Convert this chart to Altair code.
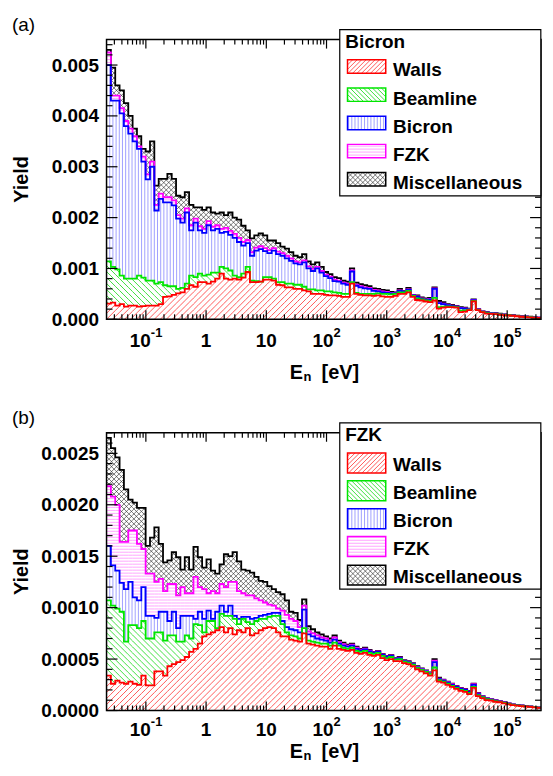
import math
import altair as alt
import numpy as np
import pandas as pd

FONT = "Liberation Sans"
LOG_LO, LOG_HI, NBINS = -1.653, 5.562, 100
UNIT = 1e-4  # all yield arrays below are in units of 1e-4

COMPONENTS = ["Walls", "Beamline", "Bicron", "FZK", "Miscellaneous"]
LINE_COLORS = ["#ff0000", "#00e600", "#0000ff", "#ff00ff", "#000000"]
HATCH_KIND = ["up", "down", "vert", "horiz", "cross"]
HATCH_STEP = [6.0, 6.0, 3.2, 3.0, 5.0]
HATCH_COLORS = ["#ff5a5a", "#40e040", "#a0a0ff", "#ffa6ff", "#303030"]
HATCH_WIDTH = [1.0, 1.0, 1.0, 1.0, 0.65]

# ---------------- panel (a): Bicron -- stacked (cumulative) levels ----------------
a_walls = [3.1, 3.3, 2.7, 3.0, 2.5, 2.7, 2.7, 2.5, 2.6, 2.7,
           2.7, 2.7, 3.0, 4.4, 4.5, 4.8, 5.1, 5.3, 6.0, 6.7,
           6.4, 7.3, 7.3, 7.0, 7.4, 8.0, 9.0, 8.0, 7.8, 8.0,
           7.8, 8.2, 9.3, 7.3, 7.3, 7.4, 7.8, 7.8, 7.6, 6.8,
           6.7, 6.3, 6.3, 6.0, 6.0, 5.7, 5.5, 5.0, 5.0, 5.0,
           4.8, 4.7, 4.7, 4.6, 4.4, 4.4, 7.0, 5.0, 4.8, 4.7,
           4.7, 4.6, 4.7, 4.5, 4.4, 4.4, 4.6, 5.0, 5.0, 5.3,
           4.4, 3.8, 3.7, 3.5, 3.4, 3.7, 2.1, 2.3, 2.4, 2.4,
           2.3, 1.4, 1.5, 1.8, 3.5, 1.8, 1.4, 1.1, 1.05, 1.0,
           0.9, 0.8, 0.75, 0.7, 0.6, 0.5, 0.45, 0.4, 0.33, 0.28]
a_beamline = [11.4, 10.3, 9.8, 8.6, 8.0, 8.0, 8.0, 8.6, 8.2, 7.6,
              7.6, 7.0, 7.3, 6.7, 6.5, 6.5, 6.0, 6.2, 7.0, 8.6,
              8.3, 9.0, 8.6, 8.8, 9.2, 9.2, 10.3, 10.0, 9.6, 8.6,
              8.3, 9.0, 10.3, 7.6, 7.5, 7.4, 8.3, 8.3, 8.0, 7.3,
              7.3, 7.0, 7.0, 6.8, 6.8, 6.4, 5.9, 5.9, 5.7, 5.7,
              5.5, 5.5, 5.3, 5.2, 5.0, 5.0, 7.3, 5.2, 5.0, 5.0,
              5.0, 5.0, 5.1, 5.0, 5.0, 4.9, 5.0, 5.3, 5.3, 5.6,
              4.6, 4.1, 3.9, 3.7, 3.6, 4.2, 2.4, 2.5, 2.55, 2.5,
              2.4, 1.7, 1.75, 1.9, 3.6, 1.85, 1.45, 1.2, 1.1, 1.05,
              0.95, 0.85, 0.8, 0.73, 0.63, 0.53, 0.48, 0.43, 0.35, 0.3]
a_bicron = [50, 43, 43, 40.5, 38, 36.5, 35, 33.5, 31, 27.5,
            30, 21.4, 23.7, 23, 23, 22.4, 19.8, 19, 21, 17.5,
            19, 17.5, 17, 18.5, 17.5, 17.8, 17, 17.2, 16.6, 16,
            15.2, 14.5, 15, 12.5, 13.5, 13.8, 13.4, 13, 13.5, 12.8,
            12.5, 12, 11.5, 11, 10.8, 11.2, 10, 9.5, 10, 9.2,
            8.5, 8.1, 7.5, 7.4, 7.0, 6.8, 9.4, 6.6, 6.3, 6.1,
            6.0, 5.6, 5.5, 5.3, 5.2, 5.1, 5.1, 5.6, 5.4, 5.8,
            4.7, 4.4, 4.0, 3.8, 3.9, 6.0, 3.2, 3.0, 2.8, 2.65,
            2.5, 2.2, 2.1, 1.95, 3.75, 1.9, 1.5, 1.3, 1.15, 1.1,
            1.0, 0.9, 0.82, 0.76, 0.66, 0.56, 0.52, 0.47, 0.38, 0.33]
a_fzk = [52.5, 44, 44, 41.5, 39, 37.5, 36, 34, 32, 28.5,
         31, 22.5, 24.7, 24, 24, 23.4, 20.5, 19.8, 21.8, 18.5,
         19.8, 18.3, 17.8, 19.3, 18.2, 18.5, 17.8, 18, 17.4, 16.8,
         16, 15.2, 15.6, 13.2, 14.1, 14.4, 14, 13.6, 14, 13.3,
         13, 12.5, 12, 11.4, 11.2, 11.6, 10.4, 9.9, 10.3, 9.5,
         8.8, 8.4, 7.8, 7.6, 7.2, 7.0, 9.6, 6.8, 6.5, 6.3,
         6.2, 5.8, 5.7, 5.5, 5.4, 5.2, 5.15, 5.7, 5.5, 5.9,
         4.75, 4.5, 4.1, 3.9, 4.0, 6.1, 3.3, 3.1, 2.85, 2.7,
         2.55, 2.25, 2.15, 2.0, 3.8, 1.95, 1.52, 1.33, 1.17, 1.13,
         1.03, 0.92, 0.83, 0.77, 0.68, 0.58, 0.53, 0.48, 0.39, 0.34]
a_total = [53, 49.5, 46, 45, 42.5, 40, 37.5, 36, 33.5, 33,
           35, 26.3, 27.6, 27.6, 28.6, 27.6, 24.3, 24, 25, 22.5,
           22, 22, 21.5, 22, 21, 20.8, 21, 20.5, 21, 20,
           19.6, 18.4, 17.5, 15.9, 16.5, 16.9, 16.5, 15.5, 15.5, 15,
           14.3, 13.9, 13.2, 12.5, 12.2, 12.8, 11.4, 10.8, 11.2, 10.3,
           9.3, 8.9, 8.3, 8.1, 7.6, 7.4, 10, 7.2, 6.9, 6.7,
           6.5, 6.1, 6.0, 5.8, 5.7, 5.4, 5.3, 6.0, 5.6, 6.2,
           4.8, 4.7, 4.3, 4.1, 4.2, 6.3, 3.6, 3.4, 3.0, 2.85,
           2.65, 2.4, 2.3, 2.1, 3.9, 2.0, 1.55, 1.4, 1.2, 1.2,
           1.1, 0.95, 0.86, 0.8, 0.7, 0.6, 0.55, 0.5, 0.4, 0.35]

# ---------------- panel (b): FZK -- stacked (cumulative) levels ----------------
b_walls = [3.4, 2.6, 2.9, 2.7, 2.6, 2.8, 2.6, 2.5, 3.4, 2.45,
           2.45, 3.8, 3.8, 3.4, 4.3, 4.5, 4.7, 4.9, 5.2, 5.7,
           6.0, 6.5, 7.2, 7.4, 7.6, 7.8, 8.1, 7.6, 8.0, 7.4,
           7.8, 7.6, 8.0, 7.3, 7.5, 7.8, 8.0, 8.1, 8.0, 7.6,
           7.2, 7.2, 6.9, 6.8, 6.7, 7.5, 6.5, 6.4, 6.3, 6.2,
           6.2, 6.0, 6.3, 6.0, 5.9, 5.8, 5.9, 5.6, 5.5, 5.6,
           5.4, 5.3, 5.4, 5.1, 4.9, 5.0, 4.8, 4.8, 4.6, 4.5,
           4.3, 4.0, 3.8, 3.6, 3.4, 3.9, 2.8, 2.7, 2.5, 2.3,
           2.1, 1.9, 1.8, 1.6, 2.2, 1.4, 1.2, 1.0, 0.95, 0.85,
           0.8, 0.7, 0.6, 0.52, 0.48, 0.43, 0.39, 0.35, 0.3, 0.26]
b_beamline = [10.7, 10.2, 9.9, 9.6, 6.7, 8.3, 8.3, 8.0, 8.7, 7.0,
              7.0, 7.6, 7.6, 6.8, 7.3, 7.3, 6.7, 6.7, 7.3, 7.0,
              8.4, 8.3, 7.6, 8.7, 8.7, 8.0, 9.4, 9.2, 9.2, 8.9,
              8.4, 8.9, 8.6, 8.4, 8.7, 8.9, 8.9, 9.1, 9.2, 9.2,
              8.4, 7.6, 7.3, 7.2, 7.0, 8.0, 6.8, 6.7, 6.6, 6.5,
              6.5, 6.3, 6.6, 6.3, 6.1, 6.0, 6.1, 5.8, 5.7, 5.8,
              5.6, 5.5, 5.6, 5.3, 5.1, 5.2, 4.95, 5.0, 4.75, 4.65,
              4.45, 4.15, 3.95, 3.75, 3.55, 4.2, 2.95, 2.8, 2.6, 2.4,
              2.2, 2.0, 1.9, 1.7, 2.3, 1.5, 1.3, 1.1, 1.0, 0.9,
              0.83, 0.73, 0.63, 0.55, 0.5, 0.45, 0.41, 0.37, 0.32, 0.27]
b_bicron = [16.0, 14.1, 13.6, 12.4, 11.8, 12.5, 11.0, 10.7, 12.0, 9.2,
            9.2, 9.0, 9.6, 9.6, 8.7, 9.6, 8.0, 9.2, 9.2, 9.2,
            8.9, 9.6, 8.9, 9.7, 8.9, 9.6, 10.2, 9.6, 10.2, 9.2,
            8.9, 9.1, 9.1, 8.9, 9.0, 9.2, 9.3, 9.4, 9.5, 9.5,
            8.7, 8.1, 7.9, 7.8, 7.6, 9.8, 7.4, 7.2, 7.0, 6.9,
            6.8, 6.6, 6.9, 6.5, 6.3, 6.2, 6.3, 6.0, 5.85, 5.95,
            5.75, 5.6, 5.7, 5.4, 5.2, 5.3, 5.0, 5.1, 4.8, 4.7,
            4.5, 4.2, 4.0, 3.8, 3.6, 4.7, 3.05, 2.9, 2.7, 2.5,
            2.3, 2.1, 2.0, 1.8, 2.5, 1.6, 1.35, 1.15, 1.05, 0.95,
            0.86, 0.76, 0.66, 0.57, 0.52, 0.47, 0.43, 0.38, 0.33, 0.28]
b_fzk = [21.8, 20.8, 20.0, 16.4, 16.4, 17.5, 17.5, 16.2, 15.7, 13.3,
         13.3, 12.5, 12.8, 11.6, 12.3, 12.3, 11.2, 12.0, 11.4, 11.4,
         13.0, 12.0, 11.8, 11.4, 11.6, 11.4, 12.3, 12.0, 12.5, 12.5,
         11.6, 11.4, 11.2, 11.2, 10.9, 10.7, 10.5, 10.3, 10.2, 9.9,
         9.7, 9.3, 8.9, 8.7, 8.1, 10.2, 7.7, 7.5, 7.3, 7.1,
         7.0, 6.8, 7.1, 6.65, 6.45, 6.3, 6.4, 6.1, 5.92, 6.02,
         5.82, 5.65, 5.75, 5.45, 5.25, 5.35, 5.05, 5.15, 4.85, 4.75,
         4.55, 4.25, 4.05, 3.85, 3.65, 4.85, 3.1, 2.95, 2.75, 2.55,
         2.35, 2.15, 2.05, 1.85, 2.55, 1.65, 1.38, 1.18, 1.07, 0.97,
         0.88, 0.78, 0.68, 0.58, 0.53, 0.48, 0.44, 0.39, 0.34, 0.29]
b_total = [26.5, 25.5, 24.6, 23.4, 21.5, 20.5, 20.2, 19.7, 19.7, 16.0,
           16.8, 17.8, 16.2, 14.4, 14.6, 15.4, 14.9, 13.7, 14.9, 13.7,
           15.9, 14.9, 13.9, 14.7, 13.6, 13.3, 14.2, 15.2, 15.0, 15.4,
           14.5, 13.7, 13.6, 13.4, 13.0, 12.6, 12.5, 12.1, 11.8, 11.5,
           11.3, 10.7, 9.6, 9.5, 8.8, 10.8, 8.2, 7.9, 7.6, 7.4,
           7.2, 7.0, 7.3, 6.8, 6.6, 6.4, 6.5, 6.2, 6.0, 6.1,
           5.9, 5.7, 5.8, 5.5, 5.3, 5.4, 5.1, 5.2, 4.9, 4.8,
           4.6, 4.3, 4.1, 3.9, 3.7, 5.0, 3.2, 3.0, 2.8, 2.6,
           2.4, 2.2, 2.1, 1.9, 2.6, 1.7, 1.4, 1.2, 1.1, 1.0,
           0.9, 0.8, 0.7, 0.6, 0.55, 0.5, 0.45, 0.4, 0.35, 0.3]

# x-axis tick labels
X_MAJOR = [0.1, 1, 10, 100, 1e3, 1e4, 1e5]
X_BASE = ["10", "1", "10", "10", "10", "10", "10"]
X_EXP = ["-1", "", "", "2", "3", "4", "5"]

edges = np.logspace(LOG_LO, LOG_HI, NBINS + 1)
W = 436.5
BW = W / NBINS
LEG_R = W - 0.2
LEG_L = LEG_R - 202


def cumulative_levels(levels):
    out, prev = [], np.zeros(NBINS)
    for lev in levels:
        hi = np.maximum(np.array(lev, dtype=float) * UNIT, prev)
        out.append((prev, hi))
        prev = hi
    return out


def long_table(bands):
    rows = []
    for name, (lo, hi) in zip(COMPONENTS, bands):
        lo_ext = np.append(lo, lo[-1])
        hi_ext = np.append(hi, hi[-1])
        for E, l, h in zip(edges, lo_ext, hi_ext):
            rows.append({"comp": name, "E": float(E), "lo": float(l), "hi": float(h)})
    return pd.DataFrame(rows)


def hatch_rect(kind, s, u0, u1, v0, v1):
    """Pattern-fill line pieces inside an axis-aligned box (plot-fraction units)."""
    segs = []
    if v1 - v0 < 0.05 or u1 - u0 < 0.05:
        return segs
    if kind in ("up", "cross"):
        for k in range(math.ceil((v0 - u1) / s), math.floor((v1 - u0) / s) + 1):
            c = k * s
            ua, ub = max(u0, v0 - c), min(u1, v1 - c)
            if ub - ua > 1e-6:
                segs.append((ua, ua + c, ub, ub + c))
    if kind in ("down", "cross"):
        for k in range(math.ceil((v0 + u0) / s), math.floor((v1 + u1) / s) + 1):
            c = k * s
            ua, ub = max(u0, c - v1), min(u1, c - v0)
            if ub - ua > 1e-6:
                segs.append((ua, c - ua, ub, c - ub))
    if kind == "vert":
        for k in range(math.ceil(u0 / s), math.floor(u1 / s) + 1):
            u = k * s
            if u0 <= u < u1:
                segs.append((u, v0, u, v1))
    if kind == "horiz":
        for k in range(math.ceil(v0 / s), math.floor(v1 / s) + 1):
            v = k * s
            if v0 < v < v1:
                segs.append((u0, v, u1, v))
    return segs


def segs_to_df(segs, H, ymax):
    def E(u):
        return float(10 ** (LOG_LO + (LOG_HI - LOG_LO) * u / W))
    return pd.DataFrame(
        [{"x": E(a), "y": va / H * ymax, "x2": E(b), "y2": vb / H * ymax} for a, va, b, vb in segs],
        columns=["x", "y", "x2", "y2"],
    )


def panel(levels, H, ymax, ymajor, minor_step, yfmt, tag, legend_title, row_y, sw_h, text_dy,
          label_y, title_y, anchor=False):
    bands = cumulative_levels(levels)
    df = long_table(bands)
    xs = alt.Scale(type="log", domain=[float(edges[0]), float(edges[-1])], nice=False)
    ys = alt.Scale(domain=[0, ymax], nice=False, zero=True)
    yaxis = alt.Axis(values=ymajor, format=yfmt, title=None, ticks=False, domain=False,
                     grid=False, labelPadding=8, labelFontSize=19, labelFontWeight="bold",
                     labelFont=FONT, labelColor="black")

    def X(f):
        return alt.X(f, type="quantitative", scale=xs, axis=None)

    def Y(f):
        return alt.Y(f, type="quantitative", scale=ys, axis=yaxis, stack=None)

    layers = []
    # hatched bands
    for (lo, hi), kind, s, hc, hw in zip(bands, HATCH_KIND, HATCH_STEP, HATCH_COLORS, HATCH_WIDTH):
        segs = []
        for i in range(NBINS):
            segs += hatch_rect(kind, s, i * BW, (i + 1) * BW, lo[i] / ymax * H, hi[i] / ymax * H)
        hdf = segs_to_df(segs, H, ymax)
        layers.append(alt.Chart(hdf).mark_rule(color=hc, strokeWidth=hw)
                      .encode(x=X("x"), y=Y("y"), x2="x2", y2="y2"))
    # outlines, Misc first, Walls on top
    for name, lc in reversed(list(zip(COMPONENTS, LINE_COLORS))):
        layers.append(
            alt.Chart(df).transform_filter(alt.datum.comp == name)
            .mark_line(interpolate="step-after", color=lc, strokeWidth=1.8)
            .encode(x=X("E"), y=Y("hi"))
        )

    # inward ticks
    nmin = int(round(ymax / minor_step))
    yminor = [round(k * minor_step, 6) for k in range(1, nmin + 1)
              if all(abs(k * minor_step - m) > 1e-9 for m in ymajor)]
    ymaj_df = pd.DataFrame({"v": ymajor})
    ymin_df = pd.DataFrame({"v": yminor})
    for d, L in ((ymaj_df, 11), (ymin_df, 6)):
        layers.append(alt.Chart(d).mark_rule(color="black", strokeWidth=1.2)
                      .encode(y=Y("v"), x=alt.value(0), x2=alt.value(L)))
        layers.append(alt.Chart(d).mark_rule(color="black", strokeWidth=1.2)
                      .encode(y=Y("v"), x=alt.value(W), x2=alt.value(W - L)))
    xminor = [k * 10.0 ** d for d in range(-2, 6) for k in range(2, 10)
              if edges[0] < k * 10.0 ** d < edges[-1] * 0.97]
    xmaj_df = pd.DataFrame({"v": X_MAJOR})
    xmin_df = pd.DataFrame({"v": xminor})
    for d, L in ((xmaj_df, 9), (xmin_df, 5)):
        layers.append(alt.Chart(d).mark_rule(color="black", strokeWidth=1.2)
                      .encode(x=X("v"), y=alt.value(H), y2=alt.value(H - L)))
        layers.append(alt.Chart(d).mark_rule(color="black", strokeWidth=1.2)
                      .encode(x=X("v"), y=alt.value(0), y2=alt.value(L)))

    # frame
    one = pd.DataFrame({"k": [0]})
    layers.append(alt.Chart(one).mark_rect(fillOpacity=0, stroke="black", strokeWidth=1.5)
                  .encode(x=alt.value(0), x2=alt.value(W), y=alt.value(0), y2=alt.value(H)))

    # x tick labels with superscripts
    lab = pd.DataFrame({"E": X_MAJOR, "base": X_BASE, "exp": X_EXP})
    txt = dict(font=FONT, fontWeight="bold", color="black", baseline="middle")
    layers.append(alt.Chart(lab).transform_filter("datum.exp == ''")
                  .mark_text(fontSize=19, align="center", **txt)
                  .encode(x=X("E"), y=alt.value(H + label_y), text="base:N"))
    for cond, dx in (("datum.exp == '-1'", 5), ("datum.exp != '' && datum.exp != '-1'", 7)):
        layers.append(alt.Chart(lab).transform_filter(cond)
                      .mark_text(fontSize=19, align="right", dx=dx, **txt)
                      .encode(x=X("E"), y=alt.value(H + label_y), text="base:N"))
        layers.append(alt.Chart(lab).transform_filter(cond)
                      .mark_text(fontSize=13, align="left", dx=dx, **txt)
                      .encode(x=X("E"), y=alt.value(H + label_y - 8), text="exp:N"))

    # axis titles and panel tag
    layers.append(alt.Chart(one).mark_text(text="E", fontSize=20, align="left", **txt)
                  .encode(x=alt.value(184), y=alt.value(H + title_y)))
    layers.append(alt.Chart(one).mark_text(text="n", fontSize=13, align="left", **txt)
                  .encode(x=alt.value(198), y=alt.value(H + title_y + 4)))
    layers.append(alt.Chart(one).mark_text(text="[eV]", fontSize=20, align="left", **txt)
                  .encode(x=alt.value(216), y=alt.value(H + title_y)))
    layers.append(alt.Chart(one).mark_text(text="Yield", fontSize=20, align="center", angle=270, **txt)
                  .encode(x=alt.value(-85), y=alt.value(H / 2)))
    layers.append(alt.Chart(one).mark_text(text=tag, fontSize=19, align="left", font=FONT,
                                           color="black", baseline="middle")
                  .encode(x=alt.value(-95), y=alt.value(-15)))
    if anchor:
        # invisible corner that fixes the page offset of the plot area
        layers.append(alt.Chart(one).mark_rect(opacity=0)
                      .encode(x=alt.value(-99), x2=alt.value(-98), y=alt.value(-30), y2=alt.value(-29)))

    # legend box
    layers.append(alt.Chart(one).mark_rect(fill="white", stroke="black", strokeWidth=1.2)
                  .encode(x=alt.value(LEG_L), x2=alt.value(LEG_R), y=alt.value(-10), y2=alt.value(157)))
    layers.append(alt.Chart(one).mark_text(text=legend_title, fontSize=19, align="left", **txt)
                  .encode(x=alt.value(LEG_L + 5.5), y=alt.value(2.5)))
    for name, kind, s, hc, hw, lc, cy in zip(COMPONENTS, HATCH_KIND, HATCH_STEP, HATCH_COLORS,
                                             HATCH_WIDTH, LINE_COLORS, row_y):
        u0, u1 = LEG_L + 7.8, LEG_L + 46.2
        v0, v1 = H - (cy + sw_h / 2), H - (cy - sw_h / 2)
        sdf = segs_to_df(hatch_rect(kind, s * 0.75 if kind in ("up", "down") else s, u0, u1, v0, v1), H, ymax)
        layers.append(alt.Chart(sdf).mark_rule(color=hc, strokeWidth=hw)
                      .encode(x=X("x"), y=Y("y"), x2="x2", y2="y2"))
        layers.append(alt.Chart(one).mark_rect(fillOpacity=0, stroke=lc, strokeWidth=1.5)
                      .encode(x=alt.value(u0), x2=alt.value(u1),
                              y=alt.value(cy - sw_h / 2), y2=alt.value(cy + sw_h / 2)))
        layers.append(alt.Chart(one).mark_text(text=name, fontSize=19, align="left", **txt)
                      .encode(x=alt.value(LEG_L + 53.5), y=alt.value(cy + text_dy)))

    return alt.layer(*layers).properties(width=W, height=H)


pa = panel([a_walls, a_beamline, a_bicron, a_fzk, a_total], 281, 0.0055,
           [0, 0.001, 0.002, 0.003, 0.004, 0.005], 0.0002, ".3f", "(a)", "Bicron",
           [27, 55.3, 83.7, 112, 140.3], 13.5, 4, 22, 54, anchor=True)
pb = panel([b_walls, b_beamline, b_bicron, b_fzk, b_total], 279, 0.0027,
           [0, 0.0005, 0.001, 0.0015, 0.002, 0.0025], 0.0001, ".4f", "(b)", "FZK",
           [30.3, 58.3, 86.3, 114.3, 143], 20, 2, 20, 41.5)

chart = (
    alt.vconcat(pa, pb, spacing=114, bounds="flush")
    .properties(padding={"left": 0, "top": 0, "right": 0, "bottom": 0})
    .configure(font=FONT)
    .configure_view(stroke=None)
)

chart.save("out.html", embed_options={"renderer": "svg", "actions": False})
